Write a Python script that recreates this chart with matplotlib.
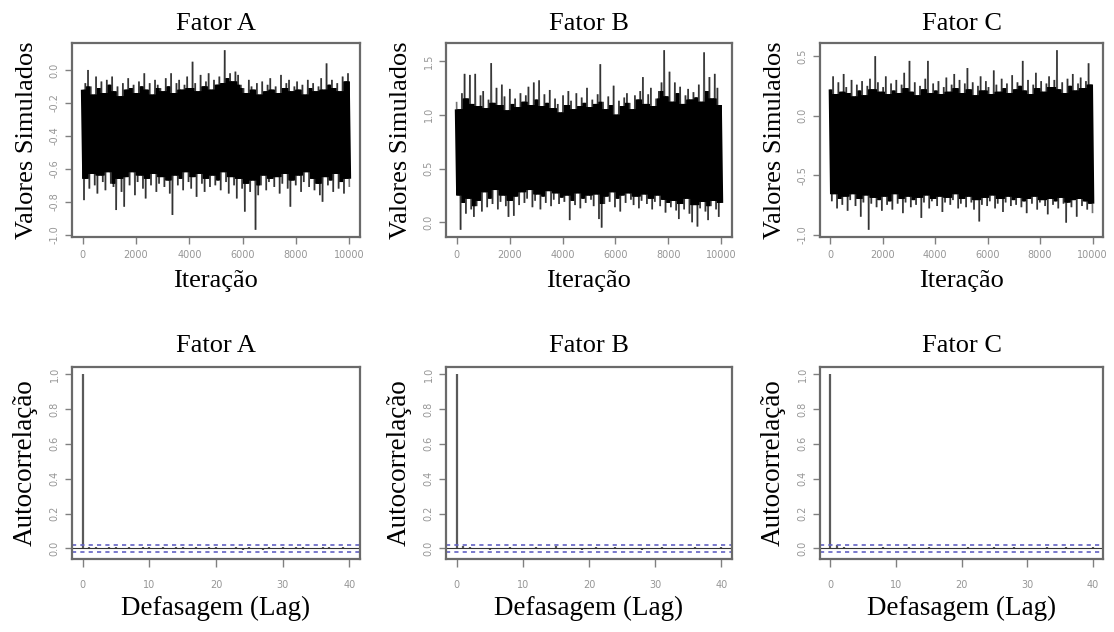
import matplotlib.pyplot as plt
from matplotlib.collections import LineCollection
import numpy as np

plt.rcParams['axes.unicode_minus'] = False

n_iter = 10000

# peak / trough of the chain in each block of 100 iterations
hi_a = [-0.12, -0.08, 0.00, -0.10, -0.15, -0.04, -0.11, -0.07, -0.14, -0.06,
        -0.09, -0.04, -0.13, -0.10, -0.16, -0.08, -0.12, -0.05, -0.11, -0.09,
        -0.14, -0.07, -0.10, -0.02, -0.12, -0.08, -0.15, -0.06, -0.09, -0.11,
        -0.13, -0.05, -0.10, -0.02, -0.14, -0.08, -0.06, -0.12, -0.09, -0.04,
        -0.11, 0.05, -0.08, -0.13, -0.03, -0.10, -0.07, -0.02, -0.12, -0.06,
        -0.09, -0.04, -0.08, 0.12, -0.05, -0.02, -0.07, -0.01, -0.03, -0.09,
        -0.11, -0.14, -0.06, -0.10, -0.12, -0.08, -0.15, -0.07, -0.13, -0.09,
        -0.05, -0.12, -0.10, -0.14, -0.03, -0.11, -0.08, -0.06, -0.13, -0.10,
        -0.07, -0.12, -0.09, -0.15, -0.06, -0.11, -0.08, -0.13, -0.10, -0.05,
        -0.12, 0.04, -0.09, -0.06, -0.11, -0.08, -0.13, -0.04, -0.07, -0.02]
lo_a = [-0.79, -0.66, -0.72, -0.63, -0.70, -0.75, -0.64, -0.68, -0.73, -0.62,
        -0.69, -0.71, -0.85, -0.66, -0.74, -0.83, -0.65, -0.70, -0.62, -0.76,
        -0.68, -0.64, -0.72, -0.78, -0.66, -0.70, -0.63, -0.74, -0.69, -0.65,
        -0.71, -0.67, -0.75, -0.88, -0.64, -0.70, -0.66, -0.73, -0.62, -0.68,
        -0.72, -0.65, -0.77, -0.63, -0.69, -0.74, -0.66, -0.71, -0.64, -0.70,
        -0.67, -0.73, -0.62, -0.68, -0.75, -0.65, -0.70, -0.78, -0.66, -0.72,
        -0.86, -0.69, -0.74, -0.67, -0.97, -0.76, -0.70, -0.64, -0.73, -0.68,
        -0.66, -0.71, -0.65, -0.75, -0.69, -0.63, -0.72, -0.83, -0.67, -0.70,
        -0.64, -0.74, -0.68, -0.62, -0.71, -0.66, -0.73, -0.69, -0.76, -0.80,
        -0.65, -0.70, -0.67, -0.74, -0.63, -0.72, -0.68, -0.75, -0.66, -0.71]

hi_b = [1.12, 1.05, 1.20, 1.38, 1.15, 1.37, 1.10, 1.38, 1.08, 1.18,
        1.22, 1.06, 1.14, 1.48, 1.11, 1.25, 1.09, 1.28, 1.17, 1.04,
        1.24, 1.10, 1.15, 1.07, 1.20, 1.12, 1.18, 1.26, 1.09, 1.30,
        1.14, 1.32, 1.08, 1.19, 1.11, 1.23, 1.06, 1.15, 1.10, 1.02,
        1.18, 1.09, 1.22, 1.13, 1.05, 1.20, 1.08, 1.16, 1.11, 1.25,
        1.07, 1.14, 1.10, 1.19, 1.47, 1.12, 1.05, 1.17, 1.09, 1.27,
        1.00, 1.13, 1.08, 1.16, 1.20, 1.11, 1.05, 1.18, 1.14, 1.22,
        1.35, 1.10, 1.19, 1.25, 1.08, 1.15, 1.22, 1.30, 1.60, 1.17,
        1.40, 1.12, 1.30, 1.20, 1.26, 1.10, 1.18, 1.24, 1.14, 1.21,
        1.16, 1.28, 1.12, 1.58, 1.22, 1.35, 1.15, 1.38, 1.25, 1.09]
lo_b = [0.25, -0.07, 0.18, 0.08, 0.22, 0.12, 0.05, 0.15, 0.20, 0.10,
        0.28, 0.14, 0.22, 0.17, 0.30, 0.12, 0.19, 0.25, 0.15, 0.05,
        0.20, 0.06, 0.24, 0.16, 0.28, 0.18, 0.22, 0.30, 0.14, 0.20,
        0.26, 0.12, 0.24, 0.18, 0.29, 0.15, 0.21, 0.27, 0.17, 0.23,
        0.19, 0.25, 0.02, 0.20, 0.16, 0.27, 0.13, 0.22, 0.18, 0.25,
        0.21, 0.15, 0.26, 0.03, -0.05, 0.17, 0.24, 0.19, 0.28, 0.14,
        0.22, 0.10, 0.25, 0.18, 0.27, 0.21, 0.16, 0.24, 0.13, 0.20,
        0.26, 0.17, 0.22, 0.12, 0.19, 0.25, 0.15, 0.21, 0.09, 0.18,
        0.14, 0.20, 0.11, 0.03, 0.17, 0.12, 0.22, 0.08, 0.00, 0.16,
        -0.04, 0.13, 0.19, 0.10, 0.02, 0.15, 0.20, 0.12, 0.05, 0.18]

hi_c = [0.22, 0.33, 0.18, 0.28, 0.20, 0.35, 0.24, 0.19, 0.30, 0.16,
        0.26, 0.21, 0.29, 0.17, 0.25, 0.31, 0.22, 0.50, 0.28, 0.20,
        0.24, 0.33, 0.18, 0.27, 0.21, 0.30, 0.19, 0.26, 0.36, 0.23,
        0.46, 0.20, 0.28, 0.17, 0.25, 0.22, 0.31, 0.46, 0.19, 0.27,
        0.21, 0.29, 0.18, 0.24, 0.32, 0.20, 0.26, 0.35, 0.23, 0.30,
        0.19, 0.27, 0.40, 0.22, 0.28, 0.17, 0.25, 0.33, 0.21, 0.29,
        0.24, 0.18, 0.38, 0.26, 0.20, 0.31, 0.23, 0.27, 0.19, 0.34,
        0.22, 0.28, 0.25, 0.46, 0.21, 0.30, 0.18, 0.26, 0.36, 0.23,
        0.29, 0.20, 0.27, 0.33, 0.24, 0.30, 0.55, 0.22, 0.28, 0.19,
        0.31, 0.25, 0.35, 0.21, 0.27, 0.32, 0.23, 0.29, 0.44, 0.26]
lo_c = [-0.72, -0.66, -0.78, -0.70, -0.75, -0.68, -0.80, -0.71, -0.66, -0.76,
        -0.70, -0.85, -0.73, -0.67, -0.96, -0.74, -0.69, -0.77, -0.71, -0.80,
        -0.68, -0.75, -0.72, -0.79, -0.66, -0.74, -0.70, -0.82, -0.73, -0.68,
        -0.77, -0.71, -0.75, -0.69, -0.86, -0.73, -0.67, -0.78, -0.72, -0.70,
        -0.76, -0.68, -0.81, -0.73, -0.69, -0.75, -0.71, -0.66, -0.78, -0.74,
        -0.70, -0.77, -0.68, -0.73, -0.79, -0.71, -0.89, -0.75, -0.69, -0.76,
        -0.72, -0.67, -0.78, -0.74, -0.70, -0.81, -0.73, -0.68, -0.76, -0.71,
        -0.75, -0.69, -0.77, -0.72, -0.82, -0.70, -0.74, -0.68, -0.79, -0.73,
        -0.71, -0.76, -0.83, -0.70, -0.75, -0.72, -0.78, -0.69, -0.74, -0.90,
        -0.73, -0.77, -0.71, -0.85, -0.70, -0.76, -0.72, -0.79, -0.74, -0.82]

lags = list(range(41))
acf_a = [1.0, 0.010, 0.006, 0.004, 0.008, 0.009, 0.003, 0.007, 0.005, 0.008, 0.006,
         0.004, 0.007, 0.005, 0.009, 0.006, 0.004, 0.008, 0.005, 0.007, 0.006,
         0.004, 0.005, 0.008, -0.006, 0.010, 0.004, -0.007, 0.006, 0.005, 0.007,
         0.004, 0.006, 0.008, 0.005, 0.004, 0.009, 0.006, 0.005, 0.007, 0.004]
acf_b = [1.0, 0.014, 0.006, -0.005, 0.004, -0.006, 0.005, -0.004, 0.006, 0.003, -0.005,
         0.004, 0.006, -0.003, 0.005, 0.012, -0.004, 0.005, 0.003, -0.006, 0.004,
         0.006, -0.005, 0.004, 0.007, -0.003, 0.005, 0.004, -0.006, 0.005, 0.003,
         0.006, -0.004, 0.005, 0.004, -0.005, 0.006, 0.003, 0.005, -0.004, 0.006]
acf_c = [1.0, 0.020, 0.008, 0.004, -0.004, 0.005, -0.003, 0.004, 0.006, -0.004, 0.005,
         0.003, 0.007, -0.004, 0.005, 0.006, -0.003, 0.004, 0.005, -0.005, 0.004,
         0.006, -0.003, 0.005, 0.004, 0.006, -0.004, 0.005, 0.007, -0.003, 0.004,
         0.005, -0.004, 0.006, 0.003, 0.005, 0.007, -0.003, 0.005, 0.004, 0.006]
conf = 0.0196

titles = ['Fator A', 'Fator B', 'Fator C']
trace_yticks = [[-1.0, -0.8, -0.6, -0.4, -0.2, 0.0],
                [0.0, 0.5, 1.0, 1.5],
                [-1.0, -0.5, 0.0, 0.5]]
iter_ticks = [0, 2000, 4000, 6000, 8000, 10000]
lag_ticks = [0, 10, 20, 30, 40]
acf_yticks = [0.0, 0.2, 0.4, 0.6, 0.8, 1.0]

serif = 'Liberation Serif'
frame_col = '#6a6a6a'
tick_col = '#808080'
label_col = '#969696'


def r_range(lo, hi):
    # R pads the data range by 4% on each side
    pad = 0.04 * (hi - lo)
    return lo - pad, hi + pad


def style_axes(ax, xpad, xlen):
    for s in ax.spines.values():
        s.set_color(frame_col)
        s.set_linewidth(1.6)
    ax.tick_params(axis='both', colors=tick_col, labelcolor=label_col,
                   labelsize=7, width=1.0)
    ax.tick_params(axis='x', length=xlen, pad=xpad)
    ax.tick_params(axis='y', length=5, pad=4, labelrotation=90)
    for t in ax.get_yticklabels():
        t.set_va('center')


def chain_segments(xs, ys):
    pts = np.column_stack([xs, ys])
    return np.stack([pts[:-1], pts[1:]], axis=1)


def interleave(hi, lo):
    ys = []
    for a, b in zip(hi, lo):
        ys.extend([a, b])
    return np.array(ys)


def neighbour_min(v):
    p = np.pad(np.asarray(v), 1, mode='edge')
    return np.minimum(np.minimum(p[:-2], p[1:-1]), p[2:])


fig = plt.figure(figsize=(11.14, 6.32), dpi=100)

lefts = [72, 446, 820]
widths = [288, 286, 283]
W, H = 1114, 632

hi_all = [hi_a, hi_b, hi_c]
lo_all = [lo_a, lo_b, lo_c]
acf_all = [acf_a, acf_b, acf_c]

for k in range(3):
    # trace plot
    ax = fig.add_axes([lefts[k] / W, 1 - 237 / H, widths[k] / W, 194 / H])
    hi, lo = hi_all[k], lo_all[k]
    xs = np.linspace(0, n_iter, 2 * len(hi))
    ys = interleave(hi, lo)
    # the part of the band that neighbouring blocks all cover is solid black
    core = interleave(neighbour_min(hi), -neighbour_min(-np.array(lo)))
    ax.add_collection(LineCollection(chain_segments(xs, core), colors='black',
                                     linewidths=2.6))
    # thinner, greyer strokes for the full excursions
    ax.add_collection(LineCollection(chain_segments(xs, ys), colors='black',
                                     linewidths=1.2, alpha=0.55))
    ax.set_xlim(-0.04 * n_iter, 1.04 * n_iter)
    ax.set_ylim(*r_range(min(lo), max(hi)))
    ax.set_xticks(iter_ticks)
    ax.set_xticklabels([str(t) for t in iter_ticks])
    ax.set_yticks(trace_yticks[k])
    ax.set_yticklabels(['%.1f' % v for v in trace_yticks[k]])
    style_axes(ax, 4, 5)
    ax.set_title(titles[k], fontfamily=serif, fontsize=19, pad=9)
    ax.text(0.5, -0.227, 'Iteração', transform=ax.transAxes, ha='center',
            va='center', fontfamily=serif, fontsize=19)
    ax.text(-45 / widths[k], 0.5, 'Valores Simulados', transform=ax.transAxes,
            ha='center', va='center', rotation=90, fontfamily=serif, fontsize=19)

    # autocorrelation plot
    ax = fig.add_axes([lefts[k] / W, 1 - 559 / H, widths[k] / W, 192 / H])
    acf = acf_all[k]
    ax.vlines(lags, 0, acf, color='#5a5a5a', lw=1.6)
    ax.axhline(0, color='#333333', lw=0.8)
    ax.axhline(conf, color='#6262c4', lw=1.2, ls=(0, (2.5, 2.5)))
    ax.axhline(-conf, color='#6262c4', lw=1.2, ls=(0, (2.5, 2.5)))
    ax.set_xlim(-0.04 * 40, 1.04 * 40)
    ax.set_ylim(*r_range(min(min(acf), -conf), 1.0))
    ax.set_xticks(lag_ticks)
    ax.set_xticklabels([str(t) for t in lag_ticks])
    ax.set_yticks(acf_yticks)
    ax.set_yticklabels(['%.1f' % v for v in acf_yticks])
    style_axes(ax, 9, 6)
    ax.set_title(titles[k], fontfamily=serif, fontsize=19, pad=11)
    ax.text(0.5, -0.26, 'Defasagem (Lag)', transform=ax.transAxes, ha='center',
            va='center', fontfamily=serif, fontsize=19.5)
    ax.text(-47 / widths[k], 0.5, 'Autocorrelação', transform=ax.transAxes,
            ha='center', va='center', rotation=90, fontfamily=serif, fontsize=19.5)

fig.savefig('out.png', dpi=100)
